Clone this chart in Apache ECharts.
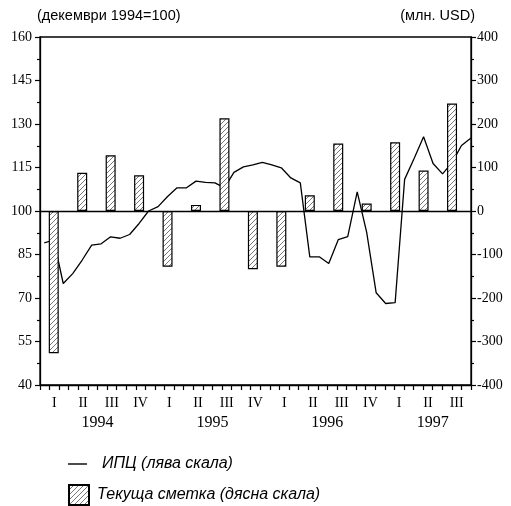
<!DOCTYPE html>
<html>
<head>
<meta charset="utf-8">
<script src="https://cdn.jsdelivr.net/npm/echarts@6/dist/echarts.min.js"></script>
<style>
  html, body { margin: 0; padding: 0; background: #fff; }
  #chart { width: 511px; height: 506px; }
</style>
</head>
<body>
<div id="chart"></div>
<script>
// Quarter and year labels for the monthly time axis (Jan 1994 – Sep 1997)
const quarterNames = ['I', 'II', 'III', 'IV'];
const yearNames = ['1994', '1995', '1996', '1997'];
const quartersPerYear = [4, 4, 4, 3];

// Consumer price index, monthly (December 1994 = 100), Jan 1994 – Oct 1997
const cpi = [
  89, 90, 75, 78.4, 83.1, 88.2, 88.7, 91.1, 90.6, 91.9, 95.7, 100,
  101.5, 105, 108, 108, 110.3, 109.9, 109.7, 108, 113.3, 115.2, 115.9, 116.8,
  115.9, 114.9, 111.4, 109.7, 84.2, 84.2, 81.9, 90.1, 91.2, 106.6, 92.6, 71.8,
  68.1, 68.4, 110.9, 118.1, 125.6, 116.4, 112.8, 116.7, 122.6, 125.2
];

// Current account, quarterly (million USD), 1994 Q1 – 1997 Q3
const currentAccount = [
  -327, 88, 128, 82,
  -128, 14, 213, -134,
  -128, 36, 155, 17,
  158, 93, 247
];

// Monthly category list and the year positions on the month-boundary axis
const months = [];
const monthQuarter = [];
yearNames.forEach((y, yi) => {
  for (let q = 0; q < quartersPerYear[yi]; q++) {
    for (let m = 0; m < 3; m++) {
      months.push(y + '-' + quarterNames[q] + '-' + (m + 1));
      monthQuarter.push(m === 1 ? quarterNames[q] : '');
    }
  }
});
const boundaries = [];
for (let i = 0; i <= months.length; i++) boundaries.push(String(i));
const yearLabelAt = { 6: '1994', 18: '1995', 30: '1996', 41: '1997' };

// Diagonal hatch used to fill the current-account bars
const hatch = document.createElement('canvas');
hatch.width = 5; hatch.height = 5;
(function () {
  const c = hatch.getContext('2d');
  c.fillStyle = '#fff';
  c.fillRect(0, 0, 5, 5);
  c.strokeStyle = '#6a6a6a';
  c.lineWidth = 0.9;
  c.beginPath();
  c.moveTo(-1, 6); c.lineTo(6, -1);
  c.moveTo(-1, 1); c.lineTo(1, -1);
  c.moveTo(4, 6); c.lineTo(6, 4);
  c.stroke();
})();

const serif = 'Liberation Serif';
const sans = 'Liberation Sans';
const cpiName = 'ИПЦ (лява скала)';
const caName = 'Текуща сметка (дясна скала)';

const chart = echarts.init(document.getElementById('chart'), null, { renderer: 'canvas' });

chart.setOption({
  animation: false,
  backgroundColor: '#fff',
  title: [
    { text: '(декември 1994=100)', left: 37, top: 8, padding: 0,
      textStyle: { fontFamily: sans, fontSize: 14.5, fontWeight: 'normal', color: '#000' } },
    { text: '(млн. USD)', right: 36, top: 8, padding: 0,
      textStyle: { fontFamily: sans, fontSize: 14.5, fontWeight: 'normal', color: '#000' } }
  ],
  grid: {
    left: 40, right: 40, top: 37, bottom: 121,
    show: true, borderColor: '#000', borderWidth: 1.3, backgroundColor: 'transparent'
  },
  legend: [
    {
      data: [{ name: cpiName, icon: 'rect' }],
      left: 68, top: 456, itemWidth: 19, itemHeight: 1.4, padding: 0,
      itemStyle: { color: '#000', borderWidth: 0 },
      textStyle: { fontFamily: sans, fontStyle: 'italic', fontSize: 16, color: '#000', padding: [0, 0, 0, 10] }
    },
    {
      data: [{ name: caName, icon: 'rect' }],
      left: 68, top: 484, itemWidth: 20, itemHeight: 20, padding: 0,
      textStyle: { fontFamily: sans, fontStyle: 'italic', fontSize: 16, color: '#000', padding: [0, 0, 0, 3] }
    }
  ],
  xAxis: [
    {
      type: 'category', data: months, position: 'bottom', boundaryGap: true,
      axisLine: { onZero: false, lineStyle: { color: '#000', width: 1.3 } },
      axisTick: { show: true, interval: 0, length: 5, lineStyle: { color: '#000', width: 1.2 } },
      axisLabel: {
        interval: 0, margin: 11, fontFamily: serif, fontSize: 14, color: '#000',
        formatter: (v, i) => monthQuarter[i]
      },
      splitLine: { show: false }
    },
    {
      type: 'category', data: boundaries, position: 'bottom', boundaryGap: false,
      axisLine: { show: false, onZero: false }, axisTick: { show: false },
      axisLabel: {
        interval: 0, margin: 30, fontFamily: serif, fontSize: 16, color: '#000',
        formatter: (v, i) => yearLabelAt[i] || ''
      },
      splitLine: { show: false }
    },
    { type: 'value', min: -0.45, max: 45, show: false,
      axisLine: { onZero: false }, splitLine: { show: false } }
  ],
  yAxis: [
    {
      type: 'value', position: 'left', min: 40, max: 160, interval: 15,
      axisLine: { show: true, onZero: false, lineStyle: { color: '#000', width: 1.3 } },
      axisTick: { show: true, length: 5, lineStyle: { color: '#000', width: 1.2 } },
      minorTick: { show: true, splitNumber: 2, length: 3, lineStyle: { color: '#000', width: 1.2 } },
      axisLabel: { margin: 8, fontFamily: serif, fontSize: 14, color: '#000' },
      splitLine: { show: false }
    },
    {
      type: 'value', position: 'right', min: -400, max: 400, interval: 100,
      axisLine: { show: true, onZero: false, lineStyle: { color: '#000', width: 1.3 } },
      axisTick: { show: true, length: 5, lineStyle: { color: '#000', width: 1.2 } },
      minorTick: { show: true, splitNumber: 2, length: 3, lineStyle: { color: '#000', width: 1.2 } },
      axisLabel: { margin: 6, fontFamily: serif, fontSize: 14, color: '#000' },
      splitLine: { show: false }
    }
  ],
  series: [
    {
      name: cpiName, type: 'line', xAxisIndex: 2, yAxisIndex: 0,
      data: cpi.map((v, i) => [i, v]),
      symbol: 'none', lineStyle: { color: '#000', width: 1.3 }, itemStyle: { color: '#000' },
      z: 2
    },
    {
      name: caName, type: 'bar', xAxisIndex: 2, yAxisIndex: 1,
      data: currentAccount.map((v, q) => [q * 3 + 1, v]),
      barWidth: 10,
      itemStyle: { color: { image: hatch, repeat: 'repeat' }, borderColor: '#000', borderWidth: 1.2 },
      markLine: {
        silent: true, symbol: 'none', label: { show: false },
        lineStyle: { color: '#000', type: 'solid', width: 1.3 },
        data: [{ yAxis: 0 }]
      },
      z: 3
    }
  ]
});
</script>
</body>
</html>
